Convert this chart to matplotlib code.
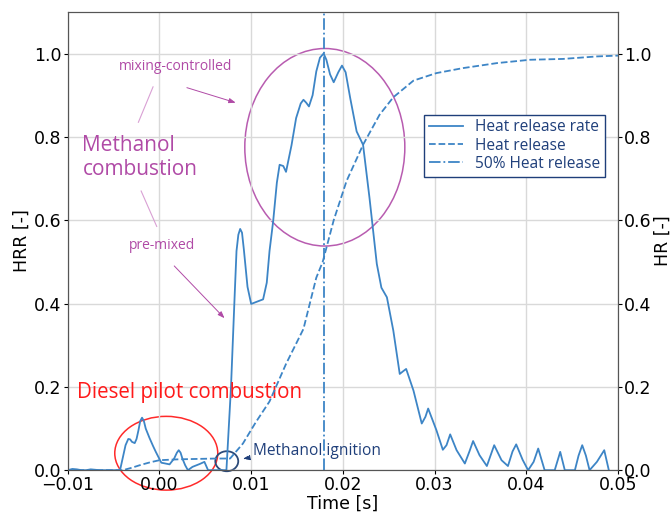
import matplotlib.pyplot as plt
from matplotlib.patches import Ellipse

# Heat release rate (normalised) vs time
t_hrr = [-0.01, -0.0095, -0.009, -0.0085, -0.008, -0.0075, -0.007, -0.0065, -0.006, -0.0055,
         -0.005, -0.0043, -0.004, -0.0037, -0.0034, -0.0032, -0.003, -0.0027, -0.0025,
         -0.0023, -0.0021, -0.0019, -0.0017, -0.0015, -0.0011, -0.0007, -0.0004, 0.0002,
         0.0011, 0.0016, 0.0019, 0.0021, 0.0023, 0.0025, 0.0028, 0.0031, 0.0036, 0.0044,
         0.0049, 0.0053, 0.006, 0.0068, 0.0073, 0.0078, 0.0082, 0.0084, 0.0086, 0.0088,
         0.009, 0.0092, 0.0096, 0.0100, 0.0107, 0.0113, 0.0117, 0.012, 0.0124, 0.0128,
         0.0131, 0.0135, 0.0138, 0.0144, 0.0149, 0.0154, 0.0157, 0.016, 0.0163, 0.0167,
         0.0171, 0.0175, 0.0179, 0.0182, 0.0186, 0.019, 0.0195, 0.0199, 0.0203, 0.0208,
         0.0215, 0.0222, 0.0229, 0.0237, 0.0242, 0.0248, 0.0255, 0.0262, 0.0266, 0.0269,
         0.0277, 0.0286, 0.029, 0.0293, 0.0302, 0.0309, 0.0313, 0.0317, 0.0324, 0.0333,
         0.0338, 0.0342, 0.0349, 0.0357, 0.0361, 0.0365, 0.0373, 0.038, 0.0385, 0.0389,
         0.0396, 0.0402, 0.0408, 0.0413, 0.042, 0.0431, 0.0437, 0.0442, 0.0453, 0.0457,
         0.0461, 0.0465, 0.0469, 0.0477, 0.0485, 0.049]
hrr = [0.0, 0.003, 0.002, 0.0, 0.0, 0.002, 0.001, 0.0, 0.0, 0.0,
       0.0, 0.0, 0.03, 0.06, 0.075, 0.074, 0.068, 0.065, 0.075,
       0.095, 0.118, 0.126, 0.118, 0.1, 0.078, 0.058, 0.044, 0.018,
       0.014, 0.028, 0.042, 0.048, 0.042, 0.028, 0.012, 0.0, 0.008, 0.015,
       0.02, 0.0, 0.0, 0.0, 0.0, 0.2, 0.42, 0.526, 0.565, 0.579,
       0.57, 0.53, 0.44, 0.399, 0.405, 0.41, 0.45, 0.526, 0.598, 0.69,
       0.733, 0.73, 0.716, 0.78, 0.845, 0.88, 0.889, 0.882, 0.873, 0.9,
       0.957, 0.99, 1.0, 0.985, 0.95, 0.931, 0.955, 0.971, 0.955, 0.893,
       0.813, 0.781, 0.654, 0.495, 0.438, 0.415, 0.335, 0.231, 0.238, 0.243,
       0.191, 0.112, 0.128, 0.148, 0.096, 0.049, 0.06, 0.086, 0.048, 0.016,
       0.045, 0.07, 0.036, 0.01, 0.035, 0.06, 0.024, 0.01, 0.045, 0.062,
       0.025, 0.0, 0.02, 0.052, 0.0, 0.0, 0.044, 0.0, 0.0, 0.035,
       0.06, 0.035, 0.0, 0.02, 0.048, 0.0]

# Cumulative heat release (normalised)
t_hr = [-0.01, -0.004, -0.003, -0.002, -0.001, 0.0, 0.002, 0.004, 0.0062, 0.0077,
        0.0091, 0.0105, 0.012, 0.0138, 0.0157, 0.0171, 0.0178, 0.019, 0.0204, 0.0222,
        0.024, 0.0255, 0.0277, 0.0302, 0.0331, 0.0368, 0.0404, 0.044, 0.0477, 0.05]
hr = [0.0, 0.0, 0.006, 0.013, 0.019, 0.024, 0.026, 0.027, 0.028, 0.028,
      0.064, 0.115, 0.165, 0.255, 0.339, 0.462, 0.5, 0.6, 0.694, 0.781,
      0.853, 0.895, 0.935, 0.953, 0.965, 0.977, 0.985, 0.987, 0.993, 0.995]

t50 = 0.0179

blue = '#3d85c6'
navy = '#1f3f7a'
magenta = '#b04aa6'

fig, ax = plt.subplots(figsize=(6.71, 5.15), dpi=100)
fig.subplots_adjust(left=0.101, right=0.921, top=0.977, bottom=0.087)

l1, = ax.plot(t_hrr, hrr, color=blue, lw=1.3, label='Heat release rate')
ax.set_xlim(-0.01, 0.05)
ax.set_ylim(0, 1.1)
ax.set_yticks([0.0, 0.2, 0.4, 0.6, 0.8, 1.0])
ax.grid(True, color='#d9d9d9', lw=1)
ax.set_xlabel('Time [s]', fontsize=12.5, labelpad=0)
ax.set_ylabel('HRR [-]', fontsize=12.5, labelpad=2)
ax.tick_params(labelsize=12.5, length=3, pad=1.5)

ax2 = ax.twinx()
l2, = ax2.plot(t_hr, hr, color=blue, lw=1.3, ls='--', label='Heat release')
l3 = ax2.axvline(t50, color=blue, lw=1.3, ls='-.', label='50% Heat release')
ax2.set_ylim(0, 1.1)
ax2.set_yticks([0.0, 0.2, 0.4, 0.6, 0.8, 1.0])
ax2.set_ylabel('HR [-]', fontsize=12.5, labelpad=1)
ax2.tick_params(labelsize=12.5, length=3, pad=1.5)

for a in (ax, ax2):
    for s in a.spines.values():
        s.set_color('#555555')

leg = ax2.legend(handles=[l1, l2, l3], loc='upper right', bbox_to_anchor=(0.985, 0.786),
                 fancybox=False, edgecolor=navy, framealpha=1,
                 prop={'family': 'Open Sans', 'size': 11.2},
                 borderpad=0.3, labelspacing=0.15, handlelength=2.2, borderaxespad=0.3)
for txt in leg.get_texts():
    txt.set_color(navy)

# Annotations
ax.add_patch(Ellipse((0.01803, 0.775), 0.01745, 0.474, fill=False, ec='#b85cb0', lw=1.1))
ax.add_patch(Ellipse((0.00074, 0.0407), 0.01123, 0.177, fill=False, ec='#ff2a2a', lw=1.1,
                     clip_on=False))
ax.add_patch(Ellipse((0.00734, 0.0215), 0.0025, 0.048, fill=False, ec='#2b4a7a', lw=1.3,
                     clip_on=False))

ax.text(0.0017, 0.97, 'mixing-controlled', color=magenta, fontsize=10, family='Open Sans',
        ha='center', va='center')
ax.text(-0.0084, 0.751, 'Methanol\ncombustion', color=magenta, fontsize=15, family='Open Sans',
        ha='left', va='center', linespacing=1.2)
ax.text(0.0003, 0.54, 'pre-mixed', color=magenta, fontsize=10, family='Open Sans',
        ha='center', va='center')
ax.text(-0.0090, 0.187, 'Diesel pilot combustion', color='#ff1a1a', fontsize=14.8,
        family='Open Sans', ha='left', va='center')
ax.text(0.0102, 0.047, 'Methanol ignition', color=navy, fontsize=11.2, family='Open Sans',
        ha='left', va='center')

ax.annotate('', xy=(0.0086, 0.88), xytext=(0.0027, 0.92),
            arrowprops=dict(arrowstyle='-|>,head_width=0.15,head_length=0.4', color=magenta, lw=0.7))
ax.annotate('', xy=(0.0073, 0.36), xytext=(0.0014, 0.495),
            arrowprops=dict(arrowstyle='-|>,head_width=0.15,head_length=0.4', color=magenta, lw=0.7))
ax.plot([-0.0007, -0.0023], [0.92, 0.835], color='#d9a0d4', lw=0.8)
ax.plot([-0.002, -0.0003], [0.67, 0.585], color='#d9a0d4', lw=0.8)
ax.annotate('', xy=(0.0088, 0.026), xytext=(0.0100, 0.031),
            arrowprops=dict(arrowstyle='-|>,head_width=0.15,head_length=0.4', color=navy,
                            lw=0.8, ls='--'))

fig.savefig('out.png', dpi=100)
